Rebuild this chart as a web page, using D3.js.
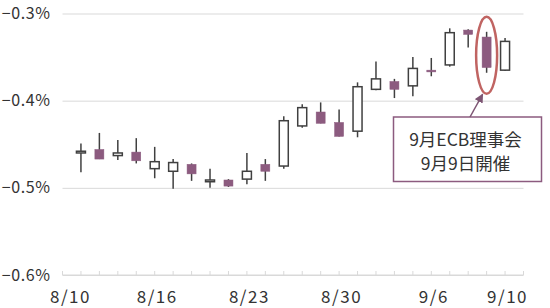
<!DOCTYPE html>
<html><head><meta charset="utf-8">
<script src="https://cdn.jsdelivr.net/npm/d3@7"></script>
<style>
html,body{margin:0;padding:0;background:#fff;}
svg{display:block;}
text{font-family:"Noto Sans CJK JP","Noto Sans",sans-serif;fill:#333;}
</style></head>
<body>
<svg id="c" width="550" height="308"></svg>
<script>
const dates = ["8/10","8/11","8/12","8/13","8/16","8/17","8/18","8/19","8/20","8/23","8/24","8/25","8/26","8/27","8/30","8/31","9/1","9/2","9/3","9/6","9/7","9/8","9/9","9/10"];
const openV  = [-0.460,-0.456,-0.463,-0.459,-0.478,-0.481,-0.473,-0.493,-0.491,-0.490,-0.473,-0.475,-0.429,-0.413,-0.425,-0.435,-0.387,-0.378,-0.383,-0.365,-0.359,-0.319,-0.327,-0.365];
const highV  = [-0.449,-0.437,-0.445,-0.443,-0.453,-0.467,-0.472,-0.478,-0.490,-0.460,-0.467,-0.418,-0.404,-0.402,-0.410,-0.379,-0.355,-0.375,-0.350,-0.351,-0.317,-0.318,-0.321,-0.328];
const lowV   = [-0.482,-0.467,-0.468,-0.472,-0.489,-0.501,-0.492,-0.500,-0.499,-0.496,-0.492,-0.478,-0.431,-0.426,-0.441,-0.442,-0.388,-0.397,-0.395,-0.372,-0.361,-0.339,-0.368,-0.366];
const closeV = [-0.458,-0.467,-0.460,-0.469,-0.470,-0.471,-0.484,-0.491,-0.498,-0.481,-0.481,-0.423,-0.408,-0.426,-0.441,-0.384,-0.375,-0.387,-0.363,-0.367,-0.322,-0.324,-0.362,-0.332];
const xLabels = ["8/10","8/16","8/23","8/30","9/6","9/10"];
const yTicks = [-0.3,-0.4,-0.5,-0.6];
const noteLines = ["9月ECB理事会","9月9日開催"];
const noteDate = "9/9";

const svg = d3.select("#c");
const L = 62.5, R = 523.5, T = 13.5, B = 275;
const x = d3.scalePoint().domain(dates).range([L, R]).padding(1);
const y = d3.scaleLinear().domain([-0.6, -0.3]).range([B, T]);
const fmt = d3.format(".1f");
const purple = "#8c5b7f", dark = "#404040", grid = "#d9d9d9";

// gridlines + y labels
const ya = svg.append("g").attr("transform", `translate(${L},0)`)
  .call(d3.axisLeft(y).tickValues(yTicks).tickSize(-(R - L)).tickPadding(12).tickFormat(d => fmt(d) + "%"));
ya.select(".domain").remove();
ya.selectAll(".tick line").attr("stroke", grid).attr("stroke-width", 1);
ya.selectAll(".tick text").attr("font-size", 16).attr("fill", "#333")
  .style("letter-spacing", "0.6px").style("font-family", "'Noto Sans CJK JP',sans-serif");

// x axis baseline & boundary ticks
const step = x.step();
const bounds = d3.range(dates.length + 2).map(i => L + i * step);
svg.append("line").attr("x1", L).attr("x2", R).attr("y1", B).attr("y2", B).attr("stroke", grid);
svg.append("g").selectAll("line").data(bounds).join("line")
  .attr("x1", d => d).attr("x2", d => d).attr("y1", B).attr("y2", B - 4).attr("stroke", grid);

// x labels
const xa = svg.append("g").attr("transform", `translate(0,${B})`)
  .call(d3.axisBottom(x).tickValues(xLabels).tickSize(0).tickPadding(16));
xa.select(".domain").remove();
xa.selectAll(".tick text").attr("font-size", 17).attr("fill", "#333")
  .style("letter-spacing", "1.5px").style("font-family", "'Noto Sans CJK JP',sans-serif")
  .attr("dx", (d, i) => i === 0 ? -11 : 2);

// candles
const data = dates.map((d, i) => ({d, o: openV[i], h: highV[i], l: lowV[i], c: closeV[i]}));
const bw = 9;
const g = svg.append("g");
g.selectAll("line.w").data(data).join("line").attr("class", "w")
  .attr("x1", d => x(d.d)).attr("x2", d => x(d.d))
  .attr("y1", d => y(d.h)).attr("y2", d => y(d.l))
  .attr("stroke", dark).attr("stroke-width", 1.5);
g.selectAll("rect.b").data(data).join("rect").attr("class", "b")
  .attr("x", d => x(d.d) - bw / 2)
  .attr("y", d => y(Math.max(d.o, d.c)))
  .attr("width", bw)
  .attr("height", d => Math.max(1.5, Math.abs(y(d.o) - y(d.c))))
  .attr("fill", d => d.c >= d.o ? "#fff" : purple)
  .attr("stroke", d => d.c >= d.o ? dark : purple)
  .attr("stroke-width", d => d.c >= d.o ? 1.5 : 0.5);

// annotation
const nd = data.find(d => d.d === noteDate);
const cx = x(nd.d);
const ey1 = y(nd.h) - 15, ey2 = y(nd.l) + 21;
svg.append("ellipse").attr("cx", cx).attr("cy", (ey1 + ey2) / 2)
  .attr("rx", 10.5).attr("ry", (ey2 - ey1) / 2)
  .attr("fill", "none").attr("stroke", "#c06462").attr("stroke-width", 2.5);

const bx = 393.5, by = 117, bwid = 148, bh = 64.5;
svg.append("rect").attr("x", bx).attr("y", by).attr("width", bwid).attr("height", bh)
  .attr("fill", "#fff").attr("stroke", purple).attr("stroke-width", 1.5);
svg.append("defs").append("marker").attr("id", "ah").attr("viewBox", "0 0 10 10")
  .attr("refX", 9).attr("refY", 5).attr("markerWidth", 6).attr("markerHeight", 6)
  .attr("orient", "auto").append("path").attr("d", "M0,0L10,5L0,10z").attr("fill", "#7d5573");
svg.append("line").attr("x1", 470).attr("y1", by).attr("x2", cx - 4).attr("y2", ey2 + 0.5)
  .attr("stroke", "#7d5573").attr("stroke-width", 1.5).attr("marker-end", "url(#ah)");
svg.append("g").selectAll("text").data(noteLines).join("text")
  .attr("x", bx + bwid / 2 - 2).attr("y", (d, i) => by + 29 + i * 24)
  .attr("text-anchor", "middle").attr("font-size", 17.5).attr("fill", "#262626")
  .text(d => d);
</script>
</body></html>
